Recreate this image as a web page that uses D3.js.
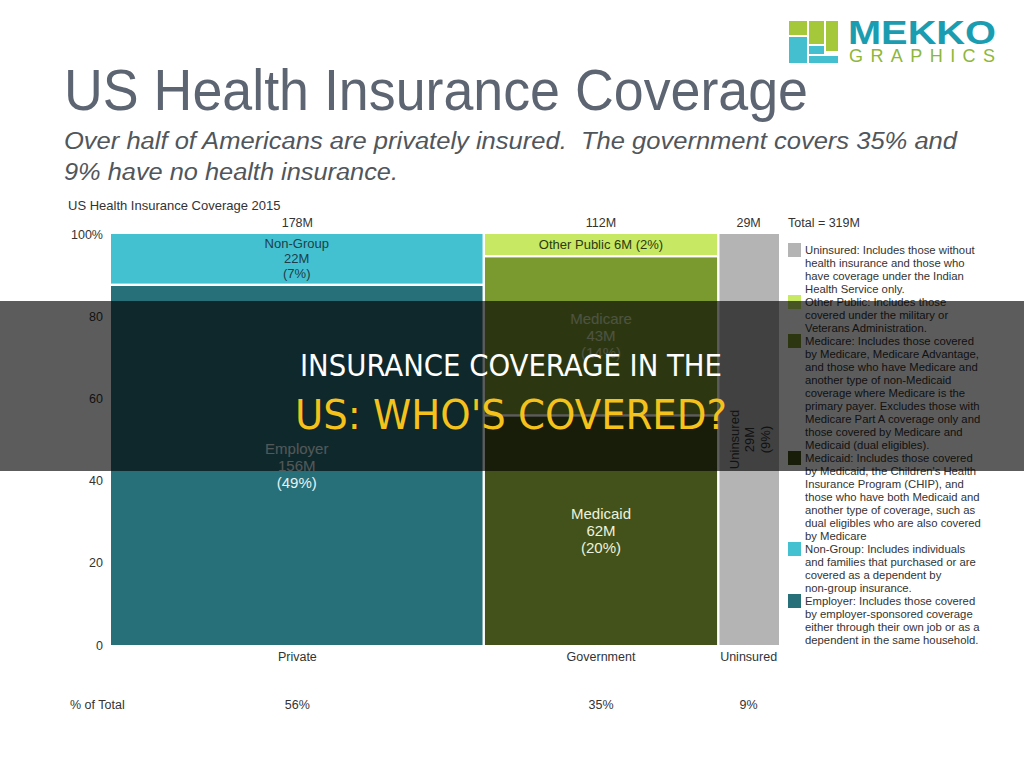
<!DOCTYPE html>
<html><head><meta charset="utf-8">
<script src="https://cdn.jsdelivr.net/npm/d3@7"></script>
<style>
body{margin:0;background:#fff}
svg{display:block;font-family:"Liberation Sans",Arial,sans-serif}
</style>
</head><body>
<svg id="c" width="1024" height="768"></svg>
<script>
// ---- data ----
const columns = ["Private", "Government", "Uninsured"];
const columnTotals = [178, 112, 29];            // millions
const columnShares = ["56%", "35%", "9%"];
const grandTotal = 319;
const segColumn = ["Private", "Private", "Government", "Government", "Government", "Uninsured"];
const segNames  = ["Employer", "Non-Group", "Medicaid", "Medicare", "Other Public", "Uninsured"];
const segValues = [156, 22, 62, 43, 6, 29];
const segPct    = ["49%", "7%", "20%", "14%", "2%", "9%"];
const yTicks = [0, 20, 40, 60, 80, 100];
const legendNames = ["Uninsured", "Other Public", "Medicare", "Medicaid", "Non-Group", "Employer"];
const legendLines = [
  ["Uninsured: Includes those without", "health insurance and those who", "have coverage under the Indian", "Health Service only."],
  ["Other Public: Includes those", "covered under the military or", "Veterans Administration."],
  ["Medicare: Includes those covered", "by Medicare, Medicare Advantage,", "and those who have Medicare and", "another type of non-Medicaid", "coverage where Medicare is the", "primary payer. Excludes those with", "Medicare Part A coverage only and", "those covered by Medicare and", "Medicaid (dual eligibles)."],
  ["Medicaid: Includes those covered", "by Medicaid, the Children's Health", "Insurance Program (CHIP), and", "those who have both Medicaid and", "another type of coverage, such as", "dual eligibles who are also covered", "by Medicare"],
  ["Non-Group: Includes individuals", "and families that purchased or are", "covered as a dependent by", "non-group insurance."],
  ["Employer: Includes those covered", "by employer-sponsored coverage", "either through their own job or as a", "dependent in the same household."]
];

// ---- styles ----
const colors = {
  "Employer": "#276f79", "Non-Group": "#44c1d1", "Medicaid": "#43521b",
  "Medicare": "#7a9a30", "Other Public": "#c6e862", "Uninsured": "#b4b4b4"
};
const labelColor = {
  "Employer": "#e4f3f4", "Non-Group": "#1d3e48", "Medicaid": "#eef2dc",
  "Medicare": "#d8e4b8", "Other Public": "#2b3a10", "Uninsured": "#333"
};

const svg = d3.select("#c");

// ---- header ----
svg.append("text").attr("x", 64).attr("y", 110)
  .attr("font-size", 58).attr("fill", "#5d6573")
  .attr("textLength", 744).attr("lengthAdjust", "spacingAndGlyphs")
  .text("US Health Insurance Coverage");
svg.append("text").attr("x", 64).attr("y", 149)
  .attr("font-size", 23).attr("font-style", "italic").attr("fill", "#50565c")
  .style("white-space", "pre")
  .attr("textLength", 893).attr("lengthAdjust", "spacingAndGlyphs")
  .text("Over half of Americans are privately insured.  The government covers 35% and");
svg.append("text").attr("x", 64).attr("y", 180)
  .attr("font-size", 23).attr("font-style", "italic").attr("fill", "#50565c")
  .attr("textLength", 334).attr("lengthAdjust", "spacingAndGlyphs")
  .text("9% have no health insurance.");

// ---- logo ----
const logo = svg.append("g");
const g1 = "#a5c83a", t1 = "#43bfd0";
[[789,21,18,14,g1],[789,37,18,26,t1],[809,21,15,23,g1],[809,46,15,8,t1],[826,21,12,30,g1],[809,56,29,7,t1]]
  .forEach(r => logo.append("rect").attr("x", r[0]).attr("y", r[1]).attr("width", r[2]).attr("height", r[3]).attr("fill", r[4]));
logo.append("text").attr("x", 848).attr("y", 44).attr("font-size", 33).attr("font-weight", "bold")
  .attr("fill", "#1b9db1").attr("textLength", 148).attr("lengthAdjust", "spacingAndGlyphs").text("MEKKO");
logo.append("text").attr("x", 849).attr("y", 62).attr("font-size", 18)
  .attr("fill", "#8db63a").attr("textLength", 146).attr("lengthAdjust", "spacing").text("GRAPHICS");

// ---- scales ----
const x = d3.scaleLinear().domain([0, grandTotal]).range([111, 779]);
const y = d3.scaleLinear().domain([0, 100]).range([645, 234]);

const colStart = {};
let acc = 0;
columns.forEach((c, i) => { colStart[c] = acc; acc += columnTotals[i]; });
const colInfo = columns.map((c, i) => ({
  name: c, start: colStart[c], end: colStart[c] + columnTotals[i], total: columnTotals[i], share: columnShares[i], idx: i
}));

svg.append("text").attr("x", 68).attr("y", 210).attr("font-size", 13).attr("fill", "#333")
  .text("US Health Insurance Coverage 2015");

// y axis
const yAxis = d3.axisLeft(y).tickValues(yTicks).tickSize(0).tickPadding(0)
  .tickFormat(d => d === 100 ? "100%" : d);
const ga = svg.append("g").attr("transform", "translate(103,0)").call(yAxis);
ga.select(".domain").remove();
ga.selectAll("text").attr("font-size", 12.5).attr("fill", "#333")
  .attr("font-family", "Liberation Sans, Arial, sans-serif");

// segments
const segs = segNames.map((n, i) => ({ name: n, col: segColumn[i], value: segValues[i], pct: segPct[i] }));
columns.forEach((c, ci) => {
  const list = segs.filter(s => s.col === c);
  const sum = d3.sum(list, s => s.value);
  let cum = 0;
  list.forEach((s, k) => {
    s.lo = cum; s.hi = cum + s.value / sum * 100; cum = s.hi;
    s.first = k === 0; s.last = k === list.length - 1;
    s.ci = ci;
  });
});

const gap = 1.2;
function segRect(s) {
  const info = colInfo[s.ci];
  const x0 = x(info.start) + (info.idx > 0 ? gap : 0);
  const x1 = x(info.end) - (info.idx < columns.length - 1 ? gap : 0);
  const yb = y(s.lo) - (s.first ? 0 : gap);
  const yt = y(s.hi) + (s.last ? 0 : gap);
  return { x: x0, y: yt, w: x1 - x0, h: yb - yt, cx: (x0 + x1) / 2, cy: (yt + yb) / 2 };
}

svg.append("g").selectAll("rect").data(segs).join("rect")
  .each(function (s) {
    const r = segRect(s);
    d3.select(this).attr("x", r.x).attr("y", r.y).attr("width", r.w).attr("height", r.h).attr("fill", colors[s.name]);
  });

// labels in segments
segs.forEach(s => {
  const r = segRect(s);
  const fmt = d3.format("d");
  if (s.name === "Other Public") {
    svg.append("text").attr("x", r.cx).attr("y", r.cy + 4.5).attr("text-anchor", "middle")
      .attr("font-size", 13).attr("fill", labelColor[s.name])
      .text(`${s.name} ${fmt(s.value)}M (${s.pct})`);
  } else if (s.name === "Uninsured") {
    const t = svg.append("text").attr("transform", `translate(${r.cx},${r.cy}) rotate(-90)`)
      .attr("text-anchor", "middle").attr("font-size", 13).attr("fill", labelColor[s.name]);
    [s.name, fmt(s.value) + "M", "(" + s.pct + ")"].forEach((l, k) =>
      t.append("tspan").attr("x", 0).attr("y", -15 + k * 15.5 + 4.5).text(l));
  } else {
    const small = s.name === "Non-Group";
    const fs = small ? 13 : 15;
    const lh = small ? 15 : 16.8;
    const t = svg.append("text").attr("text-anchor", "middle").attr("font-size", fs).attr("fill", labelColor[s.name]);
    [s.name, fmt(s.value) + "M", "(" + s.pct + ")"].forEach((l, k) =>
      t.append("tspan").attr("x", r.cx).attr("y", r.cy + (k - 1) * lh + fs * 0.36).text(l));
  }
});

// column headers, footers
colInfo.forEach(c => {
  const cx = x((c.start + c.end) / 2);
  svg.append("text").attr("x", cx).attr("y", 227).attr("text-anchor", "middle").attr("font-size", 12.5).attr("fill", "#333").text(c.total + "M");
  svg.append("text").attr("x", cx).attr("y", 661).attr("text-anchor", "middle").attr("font-size", 12.5).attr("fill", "#333").text(c.name);
  svg.append("text").attr("x", cx).attr("y", 709).attr("text-anchor", "middle").attr("font-size", 12.5).attr("fill", "#333").text(c.share);
});
svg.append("text").attr("x", 788).attr("y", 227).attr("font-size", 12.5).attr("fill", "#333").text("Total = " + grandTotal + "M");
svg.append("text").attr("x", 70).attr("y", 709).attr("font-size", 12.5).attr("fill", "#333").text("% of Total");

// legend
let ly = 250;
const lh = 13;
legendNames.forEach((n, i) => {
  svg.append("rect").attr("x", 788).attr("y", ly - 7).attr("width", 13).attr("height", 14).attr("fill", colors[n]);
  const t = svg.append("text").attr("font-size", 11.3).attr("fill", "#333");
  legendLines[i].forEach((l, k) => t.append("tspan").attr("x", 805).attr("y", ly + k * lh + 4).text(l));
  ly += legendLines[i].length * lh;
});

// overlay banner
svg.append("rect").attr("x", 0).attr("y", 301).attr("width", 1024).attr("height", 170).attr("fill", "rgba(0,0,0,0.64)");
svg.append("text").attr("x", 511).attr("y", 376).attr("text-anchor", "middle")
  .attr("font-family", "DejaVu Sans Condensed, DejaVu Sans, sans-serif").style("font-stretch", "condensed")
  .attr("font-size", 31).attr("fill", "#ffffff")
  .attr("textLength", 422).attr("lengthAdjust", "spacingAndGlyphs")
  .text("INSURANCE COVERAGE IN THE");
svg.append("text").attr("x", 511).attr("y", 429).attr("text-anchor", "middle")
  .attr("font-family", "DejaVu Sans Condensed, DejaVu Sans, sans-serif").style("font-stretch", "condensed")
  .attr("font-size", 41).attr("fill", "#f5c21b")
  .attr("textLength", 432).attr("lengthAdjust", "spacingAndGlyphs")
  .text("US: WHO'S COVERED?");
</script>
</body></html>
